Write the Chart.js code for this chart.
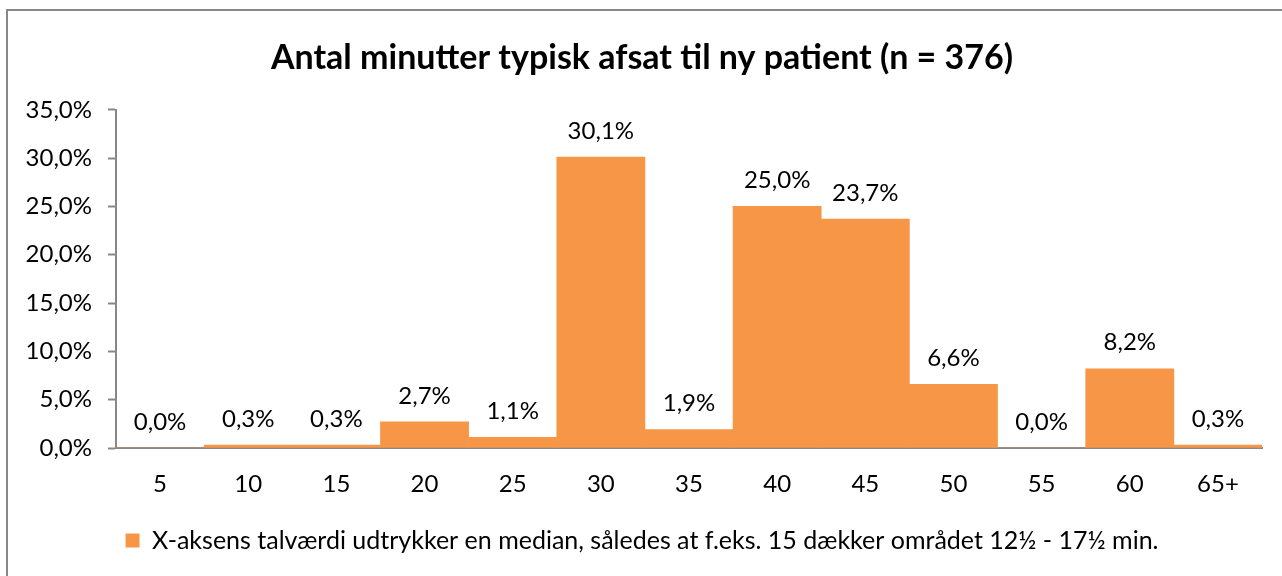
<!DOCTYPE html>
<html>
<head>
<meta charset="utf-8">
<script src="https://cdn.jsdelivr.net/npm/chart.js@4"></script>
<style>
  html, body { margin: 0; padding: 0; background: #fff; width: 1282px; height: 576px; overflow: hidden; }
  #frame { position: absolute; left: 6px; top: 9px; width: 1300px; height: 600px; border: 2px solid #888; box-sizing: border-box; }
  #c { position: absolute; left: 0; top: 0; }
</style>
</head>
<body>
<div id="frame"></div>
<canvas id="c" width="1282" height="576"></canvas>
<script>
const categories = ["5", "10", "15", "20", "25", "30", "35", "40", "45", "50", "55", "60", "65+"];
const values = [0.0, 0.3, 0.3, 2.7, 1.1, 30.1, 1.9, 25.0, 23.7, 6.6, 0.0, 8.2, 0.3];
const yTicks = [0, 5, 10, 15, 20, 25, 30, 35];
const titleText = "Antal minutter typisk afsat til ny patient (n = 376)";
const seriesName = "X-aksens talværdi udtrykker en median, således at f.eks. 15 dækker området 12½ - 17½ min.";

const FONT = "Lato, 'Open Sans', sans-serif";
const fmt = v => v.toFixed(1).replace('.', ',') + '%';

const dataLabels = {
  id: 'dataLabels',
  afterDatasetsDraw(chart) {
    const ctx = chart.ctx;
    const meta = chart.getDatasetMeta(0);
    ctx.save();
    ctx.font = "24px " + FONT;
    ctx.fillStyle = "#000";
    ctx.textAlign = "center";
    ctx.textBaseline = "middle";
    meta.data.forEach((el, i) => {
      ctx.fillText(fmt(values[i]), el.x, el.y - 26);
    });
    ctx.restore();
  }
};

new Chart(document.getElementById('c'), {
  type: 'bar',
  data: {
    labels: categories,
    datasets: [{
      label: seriesName,
      data: values,
      backgroundColor: '#F79646',
      borderWidth: 0,
      barPercentage: 1.0,
      categoryPercentage: 1.0
    }]
  },
  options: {
    responsive: false,
    animation: false,
    layout: { padding: { left: 22, right: 20, top: 0, bottom: 13 } },
    plugins: {
      title: {
        display: true,
        text: titleText,
        color: '#000',
        font: { family: FONT, size: 34, weight: 'bold' },
        padding: { top: 38, bottom: 31 }
      },
      legend: {
        position: 'bottom',
        labels: {
          color: '#000',
          boxWidth: 14,
          boxHeight: 14,
          padding: 10,
          font: { family: FONT, size: 25 }
        }
      },
      tooltip: { enabled: false }
    },
    scales: {
      x: {
        grid: { display: true, drawOnChartArea: false, drawTicks: false },
        border: { display: true, color: '#888', width: 2 },
        ticks: { color: '#000', font: { family: FONT, size: 24 }, padding: 22, maxRotation: 0 },
        afterFit: s => { s.height = 70; }
      },
      y: {
        min: 0, max: 35,
        afterBuildTicks: s => { s.ticks = yTicks.map(v => ({ value: v })); },
        grid: { display: true, drawOnChartArea: false, drawTicks: true, tickLength: 8, tickColor: '#888', tickWidth: 2 },
        border: { display: true, color: '#888', width: 2 },
        ticks: { color: '#000', font: { family: FONT, size: 24 }, padding: 16, callback: v => fmt(v) },
        afterFit: s => { s.width = 94; }
      }
    }
  },
  plugins: [dataLabels]
});
</script>
</body>
</html>
